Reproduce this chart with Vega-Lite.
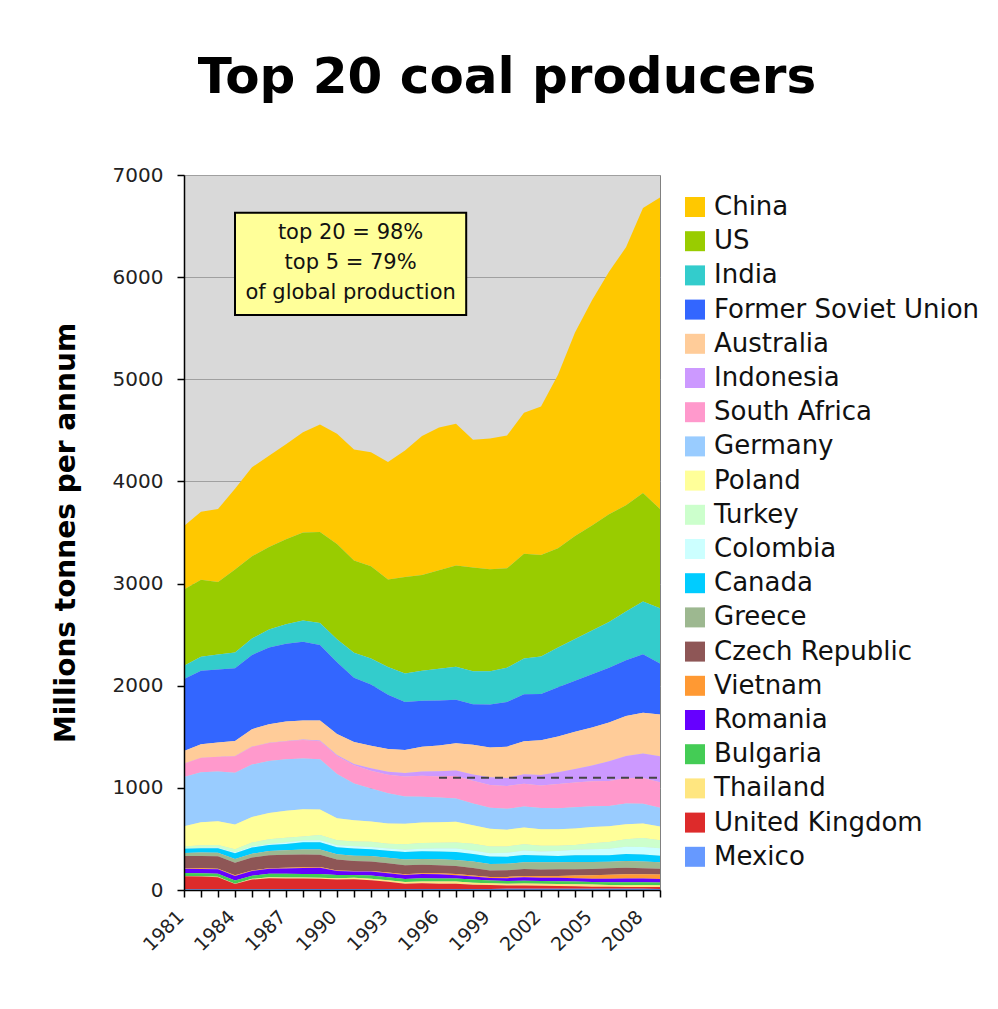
{
"$schema": "https://vega.github.io/schema/vega-lite/v6.json",
"width": 476,
"height": 715,
"autosize": {"type": "none"},
"padding": {"left": 184, "top": 175, "right": 338, "bottom": 119},
"background": "white",
"config": {
  "font": "DejaVu Sans",
  "view": {"fill": "#D9D9D9", "stroke": "#808080", "strokeWidth": 1},
  "axis": {"labelOverlap": false}
},
"title": {"text": "Top 20 coal producers", "fontSize": 50, "fontWeight": "bold", "color": "black", "anchor": "middle", "frame": "group", "dx": 85, "offset": 62},
"layer": [
  {
    "data": {"values": [
{"year":1981,"country":"China","value":622},{"year":1982,"country":"China","value":666},{"year":1983,"country":"China","value":715},{"year":1984,"country":"China","value":789},{"year":1985,"country":"China","value":872},{"year":1986,"country":"China","value":894},{"year":1987,"country":"China","value":928},{"year":1988,"country":"China","value":980},{"year":1989,"country":"China","value":1054},{"year":1990,"country":"China","value":1080},{"year":1991,"country":"China","value":1087},{"year":1992,"country":"China","value":1116},{"year":1993,"country":"China","value":1150},{"year":1994,"country":"China","value":1240},{"year":1995,"country":"China","value":1361},{"year":1996,"country":"China","value":1397},{"year":1997,"country":"China","value":1388},{"year":1998,"country":"China","value":1250},{"year":1999,"country":"China","value":1280},{"year":2000,"country":"China","value":1299},{"year":2001,"country":"China","value":1381},{"year":2002,"country":"China","value":1455},{"year":2003,"country":"China","value":1700},{"year":2004,"country":"China","value":1992},{"year":2005,"country":"China","value":2205},{"year":2006,"country":"China","value":2373},{"year":2007,"country":"China","value":2526},{"year":2008,"country":"China","value":2790},{"year":2009,"country":"China","value":3050},
{"year":1981,"country":"US","value":747},{"year":1982,"country":"US","value":755},{"year":1983,"country":"US","value":710},{"year":1984,"country":"US","value":813},{"year":1985,"country":"US","value":804},{"year":1986,"country":"US","value":808},{"year":1987,"country":"US","value":833},{"year":1988,"country":"US","value":862},{"year":1989,"country":"US","value":890},{"year":1990,"country":"US","value":933},{"year":1991,"country":"US","value":904},{"year":1992,"country":"US","value":903},{"year":1993,"country":"US","value":858},{"year":1994,"country":"US","value":945},{"year":1995,"country":"US","value":937},{"year":1996,"country":"US","value":964},{"year":1997,"country":"US","value":990},{"year":1998,"country":"US","value":1017},{"year":1999,"country":"US","value":997},{"year":2000,"country":"US","value":974},{"year":2001,"country":"US","value":1024},{"year":2002,"country":"US","value":993},{"year":2003,"country":"US","value":972},{"year":2004,"country":"US","value":1008},{"year":2005,"country":"US","value":1027},{"year":2006,"country":"US","value":1054},{"year":2007,"country":"US","value":1040},{"year":2008,"country":"US","value":1063},{"year":2009,"country":"US","value":973},
{"year":1981,"country":"India","value":130},{"year":1982,"country":"India","value":137},{"year":1983,"country":"India","value":145},{"year":1984,"country":"India","value":155},{"year":1985,"country":"India","value":162},{"year":1986,"country":"India","value":176},{"year":1987,"country":"India","value":192},{"year":1988,"country":"India","value":208},{"year":1989,"country":"India","value":214},{"year":1990,"country":"India","value":224},{"year":1991,"country":"India","value":244},{"year":1992,"country":"India","value":256},{"year":1993,"country":"India","value":270},{"year":1994,"country":"India","value":279},{"year":1995,"country":"India","value":293},{"year":1996,"country":"India","value":310},{"year":1997,"country":"India","value":323},{"year":1998,"country":"India","value":322},{"year":1999,"country":"India","value":327},{"year":2000,"country":"India","value":335},{"year":2001,"country":"India","value":352},{"year":2002,"country":"India","value":367},{"year":2003,"country":"India","value":389},{"year":2004,"country":"India","value":408},{"year":2005,"country":"India","value":429},{"year":2006,"country":"India","value":449},{"year":2007,"country":"India","value":478},{"year":2008,"country":"India","value":515},{"year":2009,"country":"India","value":540},
{"year":1981,"country":"Former Soviet Union","value":704},{"year":1982,"country":"Former Soviet Union","value":718},{"year":1983,"country":"Former Soviet Union","value":716},{"year":1984,"country":"Former Soviet Union","value":712},{"year":1985,"country":"Former Soviet Union","value":726},{"year":1986,"country":"Former Soviet Union","value":751},{"year":1987,"country":"Former Soviet Union","value":760},{"year":1988,"country":"Former Soviet Union","value":772},{"year":1989,"country":"Former Soviet Union","value":740},{"year":1990,"country":"Former Soviet Union","value":703},{"year":1991,"country":"Former Soviet Union","value":629},{"year":1992,"country":"Former Soviet Union","value":599},{"year":1993,"country":"Former Soviet Union","value":533},{"year":1994,"country":"Former Soviet Union","value":469},{"year":1995,"country":"Former Soviet Union","value":450},{"year":1996,"country":"Former Soviet Union","value":441},{"year":1997,"country":"Former Soviet Union","value":426},{"year":1998,"country":"Former Soviet Union","value":398},{"year":1999,"country":"Former Soviet Union","value":420},{"year":2000,"country":"Former Soviet Union","value":438},{"year":2001,"country":"Former Soviet Union","value":458},{"year":2002,"country":"Former Soviet Union","value":453},{"year":2003,"country":"Former Soviet Union","value":482},{"year":2004,"country":"Former Soviet Union","value":500},{"year":2005,"country":"Former Soviet Union","value":520},{"year":2006,"country":"Former Soviet Union","value":536},{"year":2007,"country":"Former Soviet Union","value":545},{"year":2008,"country":"Former Soviet Union","value":574},{"year":2009,"country":"Former Soviet Union","value":500},
{"year":1981,"country":"Australia","value":124},{"year":1982,"country":"Australia","value":132},{"year":1983,"country":"Australia","value":138},{"year":1984,"country":"Australia","value":147},{"year":1985,"country":"Australia","value":171},{"year":1986,"country":"Australia","value":181},{"year":1987,"country":"Australia","value":191},{"year":1988,"country":"Australia","value":186},{"year":1989,"country":"Australia","value":195},{"year":1990,"country":"Australia","value":206},{"year":1991,"country":"Australia","value":214},{"year":1992,"country":"Australia","value":221},{"year":1993,"country":"Australia","value":223},{"year":1994,"country":"Australia","value":226},{"year":1995,"country":"Australia","value":242},{"year":1996,"country":"Australia","value":253},{"year":1997,"country":"Australia","value":267},{"year":1998,"country":"Australia","value":290},{"year":1999,"country":"Australia","value":293},{"year":2000,"country":"Australia","value":307},{"year":2001,"country":"Australia","value":324},{"year":2002,"country":"Australia","value":340},{"year":2003,"country":"Australia","value":350},{"year":2004,"country":"Australia","value":364},{"year":2005,"country":"Australia","value":374},{"year":2006,"country":"Australia","value":379},{"year":2007,"country":"Australia","value":393},{"year":2008,"country":"Australia","value":399},{"year":2009,"country":"Australia","value":409},
{"year":1981,"country":"Indonesia","value":0.3},{"year":1982,"country":"Indonesia","value":0.5},{"year":1983,"country":"Indonesia","value":0.5},{"year":1984,"country":"Indonesia","value":1.2},{"year":1985,"country":"Indonesia","value":2},{"year":1986,"country":"Indonesia","value":2.6},{"year":1987,"country":"Indonesia","value":3},{"year":1988,"country":"Indonesia","value":4.5},{"year":1989,"country":"Indonesia","value":8.7},{"year":1990,"country":"Indonesia","value":10.5},{"year":1991,"country":"Indonesia","value":13.7},{"year":1992,"country":"Indonesia","value":22.9},{"year":1993,"country":"Indonesia","value":27.6},{"year":1994,"country":"Indonesia","value":32.6},{"year":1995,"country":"Indonesia","value":41.8},{"year":1996,"country":"Indonesia","value":50.1},{"year":1997,"country":"Indonesia","value":54.8},{"year":1998,"country":"Indonesia","value":62},{"year":1999,"country":"Indonesia","value":73.8},{"year":2000,"country":"Indonesia","value":77},{"year":2001,"country":"Indonesia","value":92.5},{"year":2002,"country":"Indonesia","value":103.4},{"year":2003,"country":"Indonesia","value":114.3},{"year":2004,"country":"Indonesia","value":132.4},{"year":2005,"country":"Indonesia","value":152.7},{"year":2006,"country":"Indonesia","value":193.8},{"year":2007,"country":"Indonesia","value":216.9},{"year":2008,"country":"Indonesia","value":240.2},{"year":2009,"country":"Indonesia","value":252.5},
{"year":1981,"country":"South Africa","value":130},{"year":1982,"country":"South Africa","value":141},{"year":1983,"country":"South Africa","value":145},{"year":1984,"country":"South Africa","value":163},{"year":1985,"country":"South Africa","value":174},{"year":1986,"country":"South Africa","value":177},{"year":1987,"country":"South Africa","value":176},{"year":1988,"country":"South Africa","value":181},{"year":1989,"country":"South Africa","value":176},{"year":1990,"country":"South Africa","value":175},{"year":1991,"country":"South Africa","value":178},{"year":1992,"country":"South Africa","value":174},{"year":1993,"country":"South Africa","value":182},{"year":1994,"country":"South Africa","value":196},{"year":1995,"country":"South Africa","value":206},{"year":1996,"country":"South Africa","value":206},{"year":1997,"country":"South Africa","value":220},{"year":1998,"country":"South Africa","value":223},{"year":1999,"country":"South Africa","value":224},{"year":2000,"country":"South Africa","value":224},{"year":2001,"country":"South Africa","value":224},{"year":2002,"country":"South Africa","value":220},{"year":2003,"country":"South Africa","value":238},{"year":2004,"country":"South Africa","value":243},{"year":2005,"country":"South Africa","value":244},{"year":2006,"country":"South Africa","value":245},{"year":2007,"country":"South Africa","value":248},{"year":2008,"country":"South Africa","value":252},{"year":2009,"country":"South Africa","value":250},
{"year":1981,"country":"Germany","value":482},{"year":1982,"country":"Germany","value":491},{"year":1983,"country":"Germany","value":487},{"year":1984,"country":"Germany","value":505},{"year":1985,"country":"Germany","value":513},{"year":1986,"country":"Germany","value":507},{"year":1987,"country":"Germany","value":503},{"year":1988,"country":"Germany","value":497},{"year":1989,"country":"Germany","value":491},{"year":1990,"country":"Germany","value":434},{"year":1991,"country":"Germany","value":360},{"year":1992,"country":"Germany","value":323},{"year":1993,"country":"Germany","value":295},{"year":1994,"country":"Germany","value":268},{"year":1995,"country":"Germany","value":253},{"year":1996,"country":"Germany","value":242},{"year":1997,"country":"Germany","value":229},{"year":1998,"country":"Germany","value":213},{"year":1999,"country":"Germany","value":205},{"year":2000,"country":"Germany","value":205},{"year":2001,"country":"Germany","value":205},{"year":2002,"country":"Germany","value":209},{"year":2003,"country":"Germany","value":205},{"year":2004,"country":"Germany","value":208},{"year":2005,"country":"Germany","value":203},{"year":2006,"country":"Germany","value":197},{"year":2007,"country":"Germany","value":202},{"year":2008,"country":"Germany","value":192},{"year":2009,"country":"Germany","value":184},
{"year":1981,"country":"Poland","value":198},{"year":1982,"country":"Poland","value":226},{"year":1983,"country":"Poland","value":232},{"year":1984,"country":"Poland","value":242},{"year":1985,"country":"Poland","value":250},{"year":1986,"country":"Poland","value":259},{"year":1987,"country":"Poland","value":266},{"year":1988,"country":"Poland","value":266},{"year":1989,"country":"Poland","value":250},{"year":1990,"country":"Poland","value":216},{"year":1991,"country":"Poland","value":209},{"year":1992,"country":"Poland","value":199},{"year":1993,"country":"Poland","value":198},{"year":1994,"country":"Poland","value":200},{"year":1995,"country":"Poland","value":200},{"year":1996,"country":"Poland","value":201},{"year":1997,"country":"Poland","value":201},{"year":1998,"country":"Poland","value":179},{"year":1999,"country":"Poland","value":173},{"year":2000,"country":"Poland","value":163},{"year":2001,"country":"Poland","value":163},{"year":2002,"country":"Poland","value":162},{"year":2003,"country":"Poland","value":163},{"year":2004,"country":"Poland","value":161},{"year":2005,"country":"Poland","value":160},{"year":2006,"country":"Poland","value":156},{"year":2007,"country":"Poland","value":146},{"year":2008,"country":"Poland","value":144},{"year":2009,"country":"Poland","value":135},
{"year":1981,"country":"Turkey","value":20},{"year":1982,"country":"Turkey","value":23},{"year":1983,"country":"Turkey","value":26},{"year":1984,"country":"Turkey","value":31},{"year":1985,"country":"Turkey","value":40},{"year":1986,"country":"Turkey","value":45},{"year":1987,"country":"Turkey","value":46},{"year":1988,"country":"Turkey","value":40},{"year":1989,"country":"Turkey","value":52},{"year":1990,"country":"Turkey","value":47},{"year":1991,"country":"Turkey","value":46},{"year":1992,"country":"Turkey","value":51},{"year":1993,"country":"Turkey","value":48},{"year":1994,"country":"Turkey","value":53},{"year":1995,"country":"Turkey","value":55},{"year":1996,"country":"Turkey","value":56},{"year":1997,"country":"Turkey","value":60},{"year":1998,"country":"Turkey","value":67},{"year":1999,"country":"Turkey","value":67},{"year":2000,"country":"Turkey","value":63},{"year":2001,"country":"Turkey","value":63},{"year":2002,"country":"Turkey","value":54},{"year":2003,"country":"Turkey","value":49},{"year":2004,"country":"Turkey","value":46},{"year":2005,"country":"Turkey","value":60},{"year":2006,"country":"Turkey","value":64},{"year":2007,"country":"Turkey","value":75},{"year":2008,"country":"Turkey","value":87},{"year":2009,"country":"Turkey","value":79},
{"year":1981,"country":"Colombia","value":4},{"year":1982,"country":"Colombia","value":5},{"year":1983,"country":"Colombia","value":6},{"year":1984,"country":"Colombia","value":8},{"year":1985,"country":"Colombia","value":9},{"year":1986,"country":"Colombia","value":11},{"year":1987,"country":"Colombia","value":14},{"year":1988,"country":"Colombia","value":17},{"year":1989,"country":"Colombia","value":19},{"year":1990,"country":"Colombia","value":21},{"year":1991,"country":"Colombia","value":21},{"year":1992,"country":"Colombia","value":22},{"year":1993,"country":"Colombia","value":21},{"year":1994,"country":"Colombia","value":23},{"year":1995,"country":"Colombia","value":26},{"year":1996,"country":"Colombia","value":30},{"year":1997,"country":"Colombia","value":33},{"year":1998,"country":"Colombia","value":34},{"year":1999,"country":"Colombia","value":33},{"year":2000,"country":"Colombia","value":38},{"year":2001,"country":"Colombia","value":44},{"year":2002,"country":"Colombia","value":40},{"year":2003,"country":"Colombia","value":50},{"year":2004,"country":"Colombia","value":54},{"year":2005,"country":"Colombia","value":59},{"year":2006,"country":"Colombia","value":66},{"year":2007,"country":"Colombia","value":70},{"year":2008,"country":"Colombia","value":74},{"year":2009,"country":"Colombia","value":73},
{"year":1981,"country":"Canada","value":40},{"year":1982,"country":"Canada","value":43},{"year":1983,"country":"Canada","value":45},{"year":1984,"country":"Canada","value":57},{"year":1985,"country":"Canada","value":61},{"year":1986,"country":"Canada","value":58},{"year":1987,"country":"Canada","value":61},{"year":1988,"country":"Canada","value":71},{"year":1989,"country":"Canada","value":71},{"year":1990,"country":"Canada","value":68},{"year":1991,"country":"Canada","value":71},{"year":1992,"country":"Canada","value":65},{"year":1993,"country":"Canada","value":69},{"year":1994,"country":"Canada","value":73},{"year":1995,"country":"Canada","value":75},{"year":1996,"country":"Canada","value":76},{"year":1997,"country":"Canada","value":79},{"year":1998,"country":"Canada","value":75},{"year":1999,"country":"Canada","value":73},{"year":2000,"country":"Canada","value":69},{"year":2001,"country":"Canada","value":70},{"year":2002,"country":"Canada","value":67},{"year":2003,"country":"Canada","value":62},{"year":2004,"country":"Canada","value":66},{"year":2005,"country":"Canada","value":65},{"year":2006,"country":"Canada","value":63},{"year":2007,"country":"Canada","value":69},{"year":2008,"country":"Canada","value":68},{"year":2009,"country":"Canada","value":63},
{"year":1981,"country":"Greece","value":30},{"year":1982,"country":"Greece","value":32},{"year":1983,"country":"Greece","value":33},{"year":1984,"country":"Greece","value":36},{"year":1985,"country":"Greece","value":36},{"year":1986,"country":"Greece","value":42},{"year":1987,"country":"Greece","value":46},{"year":1988,"country":"Greece","value":48},{"year":1989,"country":"Greece","value":52},{"year":1990,"country":"Greece","value":52},{"year":1991,"country":"Greece","value":52},{"year":1992,"country":"Greece","value":55},{"year":1993,"country":"Greece","value":55},{"year":1994,"country":"Greece","value":57},{"year":1995,"country":"Greece","value":57},{"year":1996,"country":"Greece","value":59},{"year":1997,"country":"Greece","value":59},{"year":1998,"country":"Greece","value":62},{"year":1999,"country":"Greece","value":63},{"year":2000,"country":"Greece","value":64},{"year":2001,"country":"Greece","value":67},{"year":2002,"country":"Greece","value":71},{"year":2003,"country":"Greece","value":69},{"year":2004,"country":"Greece","value":71},{"year":2005,"country":"Greece","value":69},{"year":2006,"country":"Greece","value":64},{"year":2007,"country":"Greece","value":66},{"year":2008,"country":"Greece","value":66},{"year":2009,"country":"Greece","value":64},
{"year":1981,"country":"Czech Republic","value":120},{"year":1982,"country":"Czech Republic","value":122},{"year":1983,"country":"Czech Republic","value":122},{"year":1984,"country":"Czech Republic","value":124},{"year":1985,"country":"Czech Republic","value":127},{"year":1986,"country":"Czech Republic","value":127},{"year":1987,"country":"Czech Republic","value":127},{"year":1988,"country":"Czech Republic","value":125},{"year":1989,"country":"Czech Republic","value":121},{"year":1990,"country":"Czech Republic","value":107},{"year":1991,"country":"Czech Republic","value":98},{"year":1992,"country":"Czech Republic","value":94},{"year":1993,"country":"Czech Republic","value":90},{"year":1994,"country":"Czech Republic","value":88},{"year":1995,"country":"Czech Republic","value":83},{"year":1996,"country":"Czech Republic","value":77},{"year":1997,"country":"Czech Republic","value":79},{"year":1998,"country":"Czech Republic","value":73},{"year":1999,"country":"Czech Republic","value":64},{"year":2000,"country":"Czech Republic","value":65},{"year":2001,"country":"Czech Republic","value":67},{"year":2002,"country":"Czech Republic","value":64},{"year":2003,"country":"Czech Republic","value":64},{"year":2004,"country":"Czech Republic","value":62},{"year":2005,"country":"Czech Republic","value":61},{"year":2006,"country":"Czech Republic","value":62},{"year":2007,"country":"Czech Republic","value":63},{"year":2008,"country":"Czech Republic","value":60},{"year":2009,"country":"Czech Republic","value":56},
{"year":1981,"country":"Vietnam","value":6},{"year":1982,"country":"Vietnam","value":6},{"year":1983,"country":"Vietnam","value":6},{"year":1984,"country":"Vietnam","value":6},{"year":1985,"country":"Vietnam","value":6},{"year":1986,"country":"Vietnam","value":6},{"year":1987,"country":"Vietnam","value":7},{"year":1988,"country":"Vietnam","value":7},{"year":1989,"country":"Vietnam","value":6},{"year":1990,"country":"Vietnam","value":5},{"year":1991,"country":"Vietnam","value":5},{"year":1992,"country":"Vietnam","value":5},{"year":1993,"country":"Vietnam","value":6},{"year":1994,"country":"Vietnam","value":6},{"year":1995,"country":"Vietnam","value":8},{"year":1996,"country":"Vietnam","value":10},{"year":1997,"country":"Vietnam","value":11},{"year":1998,"country":"Vietnam","value":12},{"year":1999,"country":"Vietnam","value":10},{"year":2000,"country":"Vietnam","value":12},{"year":2001,"country":"Vietnam","value":14},{"year":2002,"country":"Vietnam","value":16},{"year":2003,"country":"Vietnam","value":19},{"year":2004,"country":"Vietnam","value":27},{"year":2005,"country":"Vietnam","value":35},{"year":2006,"country":"Vietnam","value":39},{"year":2007,"country":"Vietnam","value":43},{"year":2008,"country":"Vietnam","value":40},{"year":2009,"country":"Vietnam","value":44},
{"year":1981,"country":"Romania","value":41},{"year":1982,"country":"Romania","value":42},{"year":1983,"country":"Romania","value":43},{"year":1984,"country":"Romania","value":45},{"year":1985,"country":"Romania","value":46},{"year":1986,"country":"Romania","value":48},{"year":1987,"country":"Romania","value":52},{"year":1988,"country":"Romania","value":59},{"year":1989,"country":"Romania","value":62},{"year":1990,"country":"Romania","value":38},{"year":1991,"country":"Romania","value":33},{"year":1992,"country":"Romania","value":38},{"year":1993,"country":"Romania","value":40},{"year":1994,"country":"Romania","value":41},{"year":1995,"country":"Romania","value":41},{"year":1996,"country":"Romania","value":42},{"year":1997,"country":"Romania","value":33},{"year":1998,"country":"Romania","value":28},{"year":1999,"country":"Romania","value":24},{"year":2000,"country":"Romania","value":29},{"year":2001,"country":"Romania","value":33},{"year":2002,"country":"Romania","value":31},{"year":2003,"country":"Romania","value":33},{"year":2004,"country":"Romania","value":32},{"year":2005,"country":"Romania","value":31},{"year":2006,"country":"Romania","value":35},{"year":2007,"country":"Romania","value":36},{"year":2008,"country":"Romania","value":36},{"year":2009,"country":"Romania","value":34},
{"year":1981,"country":"Bulgaria","value":29},{"year":1982,"country":"Bulgaria","value":30},{"year":1983,"country":"Bulgaria","value":31},{"year":1984,"country":"Bulgaria","value":31},{"year":1985,"country":"Bulgaria","value":31},{"year":1986,"country":"Bulgaria","value":35},{"year":1987,"country":"Bulgaria","value":36},{"year":1988,"country":"Bulgaria","value":34},{"year":1989,"country":"Bulgaria","value":35},{"year":1990,"country":"Bulgaria","value":32},{"year":1991,"country":"Bulgaria","value":29},{"year":1992,"country":"Bulgaria","value":31},{"year":1993,"country":"Bulgaria","value":29},{"year":1994,"country":"Bulgaria","value":29},{"year":1995,"country":"Bulgaria","value":31},{"year":1996,"country":"Bulgaria","value":31},{"year":1997,"country":"Bulgaria","value":29},{"year":1998,"country":"Bulgaria","value":31},{"year":1999,"country":"Bulgaria","value":27},{"year":2000,"country":"Bulgaria","value":26},{"year":2001,"country":"Bulgaria","value":27},{"year":2002,"country":"Bulgaria","value":27},{"year":2003,"country":"Bulgaria","value":27},{"year":2004,"country":"Bulgaria","value":26},{"year":2005,"country":"Bulgaria","value":25},{"year":2006,"country":"Bulgaria","value":26},{"year":2007,"country":"Bulgaria","value":29},{"year":2008,"country":"Bulgaria","value":29},{"year":2009,"country":"Bulgaria","value":27},
{"year":1981,"country":"Thailand","value":2},{"year":1982,"country":"Thailand","value":2},{"year":1983,"country":"Thailand","value":3},{"year":1984,"country":"Thailand","value":4},{"year":1985,"country":"Thailand","value":7},{"year":1986,"country":"Thailand","value":8},{"year":1987,"country":"Thailand","value":9},{"year":1988,"country":"Thailand","value":10},{"year":1989,"country":"Thailand","value":11},{"year":1990,"country":"Thailand","value":12},{"year":1991,"country":"Thailand","value":14},{"year":1992,"country":"Thailand","value":15},{"year":1993,"country":"Thailand","value":16},{"year":1994,"country":"Thailand","value":18},{"year":1995,"country":"Thailand","value":19},{"year":1996,"country":"Thailand","value":21},{"year":1997,"country":"Thailand","value":23},{"year":1998,"country":"Thailand","value":20},{"year":1999,"country":"Thailand","value":18},{"year":2000,"country":"Thailand","value":18},{"year":2001,"country":"Thailand","value":20},{"year":2002,"country":"Thailand","value":20},{"year":2003,"country":"Thailand","value":19},{"year":2004,"country":"Thailand","value":20},{"year":2005,"country":"Thailand","value":21},{"year":2006,"country":"Thailand","value":19},{"year":2007,"country":"Thailand","value":18},{"year":2008,"country":"Thailand","value":18},{"year":2009,"country":"Thailand","value":18},
{"year":1981,"country":"United Kingdom","value":128},{"year":1982,"country":"United Kingdom","value":125},{"year":1983,"country":"United Kingdom","value":119},{"year":1984,"country":"United Kingdom","value":51},{"year":1985,"country":"United Kingdom","value":94},{"year":1986,"country":"United Kingdom","value":108},{"year":1987,"country":"United Kingdom","value":104},{"year":1988,"country":"United Kingdom","value":104},{"year":1989,"country":"United Kingdom","value":100},{"year":1990,"country":"United Kingdom","value":93},{"year":1991,"country":"United Kingdom","value":94},{"year":1992,"country":"United Kingdom","value":85},{"year":1993,"country":"United Kingdom","value":69},{"year":1994,"country":"United Kingdom","value":49},{"year":1995,"country":"United Kingdom","value":54},{"year":1996,"country":"United Kingdom","value":50},{"year":1997,"country":"United Kingdom","value":49},{"year":1998,"country":"United Kingdom","value":41},{"year":1999,"country":"United Kingdom","value":37},{"year":2000,"country":"United Kingdom","value":31},{"year":2001,"country":"United Kingdom","value":32},{"year":2002,"country":"United Kingdom","value":30},{"year":2003,"country":"United Kingdom","value":28},{"year":2004,"country":"United Kingdom","value":25},{"year":2005,"country":"United Kingdom","value":20},{"year":2006,"country":"United Kingdom","value":19},{"year":2007,"country":"United Kingdom","value":17},{"year":2008,"country":"United Kingdom","value":18},{"year":2009,"country":"United Kingdom","value":18},
{"year":1981,"country":"Mexico","value":7},{"year":1982,"country":"Mexico","value":7},{"year":1983,"country":"Mexico","value":7},{"year":1984,"country":"Mexico","value":7},{"year":1985,"country":"Mexico","value":8},{"year":1986,"country":"Mexico","value":8},{"year":1987,"country":"Mexico","value":9},{"year":1988,"country":"Mexico","value":9},{"year":1989,"country":"Mexico","value":10},{"year":1990,"country":"Mexico","value":11},{"year":1991,"country":"Mexico","value":11},{"year":1992,"country":"Mexico","value":11},{"year":1993,"country":"Mexico","value":11},{"year":1994,"country":"Mexico","value":11},{"year":1995,"country":"Mexico","value":11},{"year":1996,"country":"Mexico","value":11},{"year":1997,"country":"Mexico","value":11},{"year":1998,"country":"Mexico","value":11},{"year":1999,"country":"Mexico","value":11},{"year":2000,"country":"Mexico","value":12},{"year":2001,"country":"Mexico","value":12},{"year":2002,"country":"Mexico","value":12},{"year":2003,"country":"Mexico","value":12},{"year":2004,"country":"Mexico","value":12},{"year":2005,"country":"Mexico","value":12},{"year":2006,"country":"Mexico","value":12},{"year":2007,"country":"Mexico","value":12},{"year":2008,"country":"Mexico","value":12},{"year":2009,"country":"Mexico","value":11}
    ]},
    "transform": [
      {"lookup": "country", "from": {"data": {"values": [
        {"country":"China","rank":1},{"country":"US","rank":2},{"country":"India","rank":3},{"country":"Former Soviet Union","rank":4},{"country":"Australia","rank":5},{"country":"Indonesia","rank":6},{"country":"South Africa","rank":7},{"country":"Germany","rank":8},{"country":"Poland","rank":9},{"country":"Turkey","rank":10},{"country":"Colombia","rank":11},{"country":"Canada","rank":12},{"country":"Greece","rank":13},{"country":"Czech Republic","rank":14},{"country":"Vietnam","rank":15},{"country":"Romania","rank":16},{"country":"Bulgaria","rank":17},{"country":"Thailand","rank":18},{"country":"United Kingdom","rank":19},{"country":"Mexico","rank":20}
      ]}, "key": "country", "fields": ["rank"]}}
    ],
    "mark": {"type": "area", "interpolate": "linear"},
    "encoding": {
      "x": {"field": "year", "type": "quantitative", "scale": {"domain": [1981, 2009], "nice": false, "zero": false},
        "axis": {"values": [1981,1982,1983,1984,1985,1986,1987,1988,1989,1990,1991,1992,1993,1994,1995,1996,1997,1998,1999,2000,2001,2002,2003,2004,2005,2006,2007,2008,2009],
          "format": "d", "labelExpr": "(datum.value - 1981) % 3 == 0 ? datum.label : ''", "labelAngle": -45, "labelFontSize": 19, "labelColor": "#222", "labelOverlap": false, "labelFlush": false, "labelPadding": 10, "labelOffset": -10, "labelBound": false,
          "grid": false, "domainColor": "black", "domainWidth": 1.5, "tickColor": "black", "tickSize": 7, "tickWidth": 1.5, "title": null, "zindex": 1, "orient": "bottom"}},
      "y": {"field": "value", "type": "quantitative", "stack": "zero", "scale": {"domain": [0, 7000], "nice": false},
        "axis": {"values": [0,1000,2000,3000,4000,5000,6000,7000], "grid": true, "gridColor": "#A0A0A0", "gridWidth": 1, "domain": false, "ticks": false, "labels": false, "title": null, "zindex": 0, "orient": "left"}},
      "order": {"field": "rank", "type": "quantitative", "sort": "descending"},
      "color": {"field": "country", "type": "nominal",
        "sort": ["China","US","India","Former Soviet Union","Australia","Indonesia","South Africa","Germany","Poland","Turkey","Colombia","Canada","Greece","Czech Republic","Vietnam","Romania","Bulgaria","Thailand","United Kingdom","Mexico"],
        "scale": {"domain": ["China","US","India","Former Soviet Union","Australia","Indonesia","South Africa","Germany","Poland","Turkey","Colombia","Canada","Greece","Czech Republic","Vietnam","Romania","Bulgaria","Thailand","United Kingdom","Mexico"],
          "range": ["#FFC800","#99CC00","#33CCCC","#3366FF","#FFCC99","#CC99FF","#FF99CC","#99CCFF","#FFFF99","#CCFFCC","#CCFFFF","#00CCFF","#9DB890","#8E5656","#FF9933","#6600FF","#44CC55","#FFE680","#DD2B2B","#6699FF"]},
        "legend": {"title": null, "orient": "none", "legendX": 498, "legendY": 19, "symbolType": "square", "symbolSize": 400, "symbolStrokeWidth": 0, "symbolOpacity": 1, "labelFontSize": 26, "labelColor": "#111", "labelOffset": 6, "rowPadding": 8.2, "padding": 0, "labelLimit": 400}}
    }
  },
  {
    "data": {"values": [{}]},
    "mark": {"type": "rule", "color": "#444444", "strokeDash": [8, 6], "strokeWidth": 2},
    "encoding": {
      "x": {"datum": 1996, "type": "quantitative", "axis": null},
      "x2": {"datum": 2009},
      "y": {"datum": 1100, "type": "quantitative", "scale": {"domain": [0, 7000], "nice": false},
        "axis": {"values": [0,1000,2000,3000,4000,5000,6000,7000], "format": "d", "orient": "left", "grid": false, "domainColor": "black", "domainWidth": 1.5, "tickColor": "black", "tickSize": 7, "tickWidth": 1.5, "labelFontSize": 20, "labelColor": "#222", "labelPadding": 14, "title": "Millions tonnes per annum", "titleFontSize": 28, "titleFontWeight": "bold", "titleColor": "black", "titlePadding": 32, "zindex": 1}}
    }
  },
  {
    "data": {"values": [{}]},
    "mark": {"type": "rect", "fill": "#FFFF99", "stroke": "black", "strokeWidth": 2},
    "encoding": {
      "x": {"datum": 1984, "type": "quantitative", "axis": null},
      "x2": {"datum": 1997.6},
      "y": {"datum": 6630, "type": "quantitative", "axis": null},
      "y2": {"datum": 5630}
    }
  },
  {
    "data": {"values": [{}]},
    "mark": {"type": "text", "fontSize": 21, "color": "#111", "align": "center", "baseline": "middle", "lineHeight": 30},
    "encoding": {
      "x": {"datum": 1990.8, "type": "quantitative", "axis": null},
      "y": {"datum": 6435, "type": "quantitative", "axis": null},
      "text": {"value": ["top 20 = 98%", "top 5 = 79%", "of global production"]}
    }
  }
],
"resolve": {"axis": {"x": "independent", "y": "independent"}}
}
